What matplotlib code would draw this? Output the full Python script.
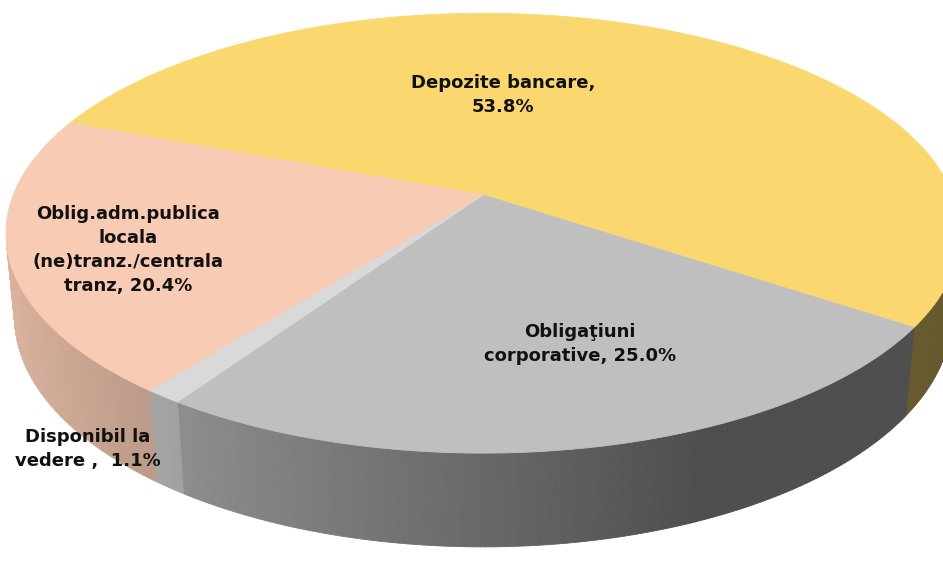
import numpy as np
import matplotlib.pyplot as plt
from matplotlib.collections import PolyCollection

# date (procente), in ordinea acelor de ceasornic
categories = ["Depozite bancare", "Obligaţiuni\ncorporative", "Disponibil la\nvedere ",
              "Oblig.adm.publica\nlocala\n(ne)tranz./centrala\ntranz"]
values = [53.8, 25.0, 1.1, 20.4]
separators = [",\n", ", ", ",  ", ", "]

top_colors = ["#FAD86F", "#BFBFBF", "#D9D9D9", "#F8CBB4"]
label_pos = [(503, 95), (580, 344), (88, 449), (128, 250)]

# geometrie 3D (camera in perspectiva)
FIRST_ANGLE = 159.0      # grade, marginea de start a primei felii
ELEV = np.radians(27)
DIST = 5.13
FOCAL = 2410
DEPTH = 0.2
X0, Y0 = 483, 195


def proj(x, y, z):
    s, c = np.sin(ELEV), np.cos(ELEV)
    d = DIST + y * c - z * s
    px = X0 + FOCAL * x / d
    py = Y0 - FOCAL * (y * s + z * c) / d
    return px, py


def shade(hex_color, theta):
    # lumina laterala, mai inchis spre dreapta
    f = max(0.41, 0.545 - 0.35 * np.cos(theta))
    r, g, b = [int(hex_color[i:i + 2], 16) / 255 for i in (1, 3, 5)]
    return (r * f, g * f, b * f)


fig = plt.figure(figsize=(9.43, 5.63), dpi=100)
ax = fig.add_axes([0, 0, 1, 1])
ax.set_xlim(0, 943)
ax.set_ylim(563, 0)
ax.axis("off")

total = sum(values)
spans = [v / total * 360 for v in values]
starts = FIRST_ANGLE - np.concatenate([[0], np.cumsum(spans)[:-1]])

# partea vizibila a cilindrului
lim = np.degrees(np.arcsin(1 / (DIST * np.cos(ELEV))))
vis_lo, vis_hi = -180 + lim, -lim

side_polys, side_cols = [], []
for a0, sp, col in zip(starts, spans, top_colors):
    a1 = a0 - sp
    for shift in (0, -360, 360):
        lo = max(a1 + shift, vis_lo)
        hi = min(a0 + shift, vis_hi)
        if hi <= lo:
            continue
        n = max(2, int((hi - lo) / 0.5) + 1)
        th = np.radians(np.linspace(lo, hi, n))
        for t1, t2 in zip(th[:-1], th[1:]):
            p1 = proj(np.cos(t1), np.sin(t1), 0)
            p2 = proj(np.cos(t2), np.sin(t2), 0)
            p3 = proj(np.cos(t2), np.sin(t2), -DEPTH)
            p4 = proj(np.cos(t1), np.sin(t1), -DEPTH)
            side_polys.append([p1, p2, p3, p4])
            side_cols.append(shade(col, (t1 + t2) / 2))

ax.add_collection(PolyCollection(side_polys, facecolors=side_cols,
                                 edgecolors=side_cols, linewidths=0.6))

# fetele de sus ale feliilor
for a0, sp, col in zip(starts, spans, top_colors):
    th = np.radians(np.linspace(a0, a0 - sp, max(3, int(sp * 2))))
    xs, ys = proj(np.cos(th), np.sin(th), 0 * th)
    pts = [proj(0, 0, 0)] + list(zip(xs, ys))
    ax.add_patch(plt.Polygon(pts, closed=True, facecolor=col,
                             edgecolor=col, linewidth=0.6))

for cat, v, sep, (lx, ly) in zip(categories, values, separators, label_pos):
    ax.text(lx, ly, f"{cat}{sep}{v:.1f}%", ha="center", va="center",
            fontsize=13, fontweight="bold", color="#111111",
            family="DejaVu Sans", linespacing=1.42)

fig.savefig("out.png", dpi=100)
